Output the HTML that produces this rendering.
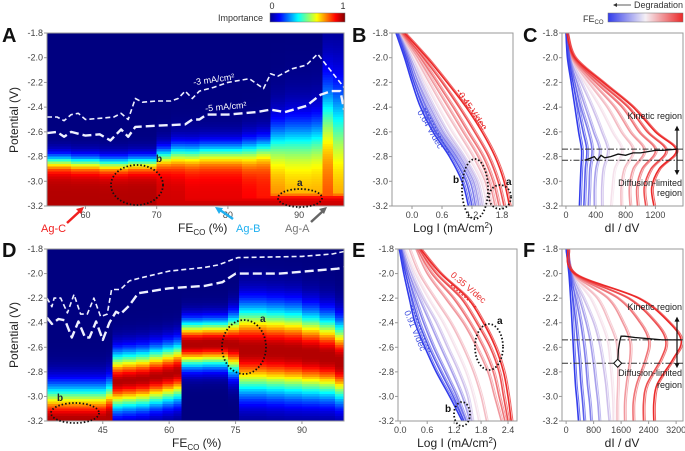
<!DOCTYPE html>
<html><head><meta charset="utf-8">
<style>
html,body{margin:0;padding:0;background:#fff;}
svg{display:block;font-family:"Liberation Sans",sans-serif;}
.tk{font-size:9px;fill:#444;}
.at{font-size:12px;fill:#222;}
.pl{font-size:20px;font-weight:bold;fill:#111;}
</style></head>
<body>
<svg id="fig" width="685" height="451" viewBox="0 0 685 451" xmlns="http://www.w3.org/2000/svg">
<defs>
<linearGradient id="jetg" x1="0" x2="1" y1="0" y2="0">
<stop offset="0" stop-color="#00008f"/><stop offset="0.125" stop-color="#0000ff"/><stop offset="0.375" stop-color="#00ffff"/><stop offset="0.625" stop-color="#ffff00"/><stop offset="0.875" stop-color="#ff0000"/><stop offset="1" stop-color="#800000"/>
</linearGradient>
<linearGradient id="bwrg" x1="0" x2="1" y1="0" y2="0">
<stop offset="0" stop-color="#323ceb"/><stop offset="0.5" stop-color="#f5f0f5"/><stop offset="1" stop-color="#eb2828"/>
</linearGradient>
<clipPath id="clipA"><rect x="47" y="33" width="297" height="173"/></clipPath>
<clipPath id="clipD"><rect x="47" y="249" width="297" height="172"/></clipPath>
<clipPath id="clipB"><rect x="392" y="33" width="121" height="173"/></clipPath>
<clipPath id="clipC"><rect x="562" y="33" width="121" height="173"/></clipPath>
<clipPath id="clipE"><rect x="398" y="249" width="119" height="172"/></clipPath>
<clipPath id="clipF"><rect x="562" y="249" width="121" height="172"/></clipPath>
</defs>

<g id="layer-heat"></g>
<g id="layer-curves"></g>
<g id="layer-axes"></g>

<text class="pl" x="2" y="42">A</text>
<text class="pl" x="352" y="42">B</text>
<text class="pl" x="523" y="42">C</text>
<text class="pl" x="2" y="257">D</text>
<text class="pl" x="352" y="257">E</text>
<text class="pl" x="523" y="257">F</text>

<g>
<rect x="270" y="13" width="75" height="9" fill="url(#jetg)" stroke="#777" stroke-width="0.5"/>
<text x="218" y="21" font-size="9" fill="#333">Importance</text>
<text x="272" y="9" font-size="9" fill="#333" text-anchor="middle">0</text>
<text x="343" y="9" font-size="9" fill="#333" text-anchor="middle">1</text>
</g>
<g>
<rect x="608" y="13" width="75" height="9" fill="url(#bwrg)" stroke="#777" stroke-width="0.5"/>
<text x="583" y="22" font-size="9" fill="#333">FE<tspan font-size="6" dy="2">CO</tspan></text>
<line x1="617" y1="5" x2="631" y2="5" stroke="#333" stroke-width="0.8"/>
<path d="M613,5 l4,-2 v4 z" fill="#333"/>
<text x="683" y="8" font-size="9" fill="#333" text-anchor="end">Degradation</text>
</g>

<text class="at" transform="translate(18,120) rotate(-90)" text-anchor="middle">Potential (V)</text>
<text class="at" transform="translate(18,335) rotate(-90)" text-anchor="middle">Potential (V)</text>
<text class="at" x="178" y="232">FE<tspan font-size="8" dy="3">CO</tspan><tspan dy="-3"> (%)</tspan></text>
<text class="at" x="172" y="447">FE<tspan font-size="8" dy="3">CO</tspan><tspan dy="-3"> (%)</tspan></text>
<text class="at" x="453" y="232" text-anchor="middle">Log I (mA/cm<tspan font-size="8" dy="-4">2</tspan><tspan dy="4">)</tspan></text>
<text class="at" x="457" y="447" text-anchor="middle">Log I (mA/cm<tspan font-size="8" dy="-4">2</tspan><tspan dy="4">)</tspan></text>
<text class="at" x="622" y="232" text-anchor="middle">dI / dV</text>
<text class="at" x="622" y="447" text-anchor="middle">dI / dV</text>

<g>
<line x1="67" y1="223" x2="80" y2="211" stroke="#f02020" stroke-width="2.5"/>
<path d="M84,207 l-8,2 l5,5 z" fill="#f02020"/>
<text x="41" y="232" font-size="11" fill="#f02020">Ag-C</text>
</g>
<g>
<line x1="233" y1="219" x2="220" y2="210" stroke="#20b0f0" stroke-width="2.5"/>
<path d="M215,207 l8,1 l-4,6 z" fill="#20b0f0"/>
<text x="236" y="232" font-size="11" fill="#20b0f0">Ag-B</text>
</g>
<g>
<line x1="311" y1="222" x2="323" y2="211" stroke="#666" stroke-width="2.5"/>
<path d="M327,207 l-8,2 l5,5 z" fill="#666"/>
<text x="285" y="232" font-size="11" fill="#777">Ag-A</text>
</g>

<g id="layer-annot"></g>
</svg>

<script>
// ---------- DATA ----------
const feA   = [55,57,59,61,63,65,67,69,71,73,75,77,79,81,83,85,87,89,91,92.5,94,95.5];
const v50A  = [-2.84,-2.84,-2.85,-2.85,-2.86,-2.86,-2.85,-2.85,-2.8,-2.78,-2.78,-2.77,-2.77,-2.77,-2.76,-2.74,-2.68,-2.66,-2.66,-2.64,-2.45,-2.5];
const wA    = [.04,.04,.04,.04,.04,.04,.04,.04,.05,.06,.06,.06,.06,.06,.07,.07,.12,.13,.13,.13,.2,.22];
const peakA = [.95,.95,.95,.95,.95,.95,.95,.95,.92,.92,.9,.9,.9,.9,.88,.86,.75,.72,.72,.72,.82,.75];
const feA3 = [54.6,56,57,58,59,60,62,64,65,66,67,68,70,72,73,74,75,76,78,80,83,85,86,87,89,91,92.6,96.3];
const vA3  = [-2.48,-2.48,-2.51,-2.46,-2.45,-2.5,-2.49,-2.48,-2.45,-2.5,-2.33,-2.36,-2.35,-2.35,-2.33,-2.27,-2.33,-2.27,-2.24,-2.2,-2.17,-2.25,-2.13,-2.15,-2.09,-2.06,-1.97,-2.24];
const feA5 = [54.6,56,57,58,60,62,63.5,65,66,67,70,74,75,76,77,80,84,86,88,91,93,94.5,95.8,96.3];
const vA5  = [-2.61,-2.6,-2.64,-2.6,-2.63,-2.62,-2.67,-2.58,-2.64,-2.56,-2.55,-2.54,-2.5,-2.5,-2.46,-2.46,-2.44,-2.42,-2.44,-2.39,-2.3,-2.27,-2.27,-2.42];
const feD = [33,36,39,42,45,46.5,48,51,54,57,60,62,63.5,66,69,72,74.5,77,80,84,88,92,96,99];
const cD  = [-3.2,-3.2,-3.2,-3.2,-3.2,-3.17,-2.88,-2.87,-2.86,-2.84,-2.82,-2.8,-2.575,-2.575,-2.57,-2.57,-2.58,-2.62,-2.62,-2.63,-2.64,-2.66,-2.68,-2.72];
const hwD = [.01,.01,.01,.01,.01,.01,0,0,0,0,0,0,.01,.01,.01,.01,.01,.02,.02,.02,.02,.02,.02,.02];
const sD  = [.24,.24,.24,.24,.24,.24,.21,.21,.21,.21,.21,.21,.16,.16,.16,.16,.2,.3,.3,.3,.3,.29,.28,.27];
const feD3 = [32.4,33.5,34,35.5,37,38.5,40,41.5,43,44.5,46,47,49,51,53,60,68,71,75.5,90,97,99.5];
const vD3  = [-2.2,-2.27,-2.2,-2.2,-2.32,-2.17,-2.33,-2.33,-2.2,-2.35,-2.33,-2.13,-2.13,-2.06,-2.04,-1.98,-1.95,-1.93,-1.87,-1.86,-1.84,-1.82];
const feD5 = [32.4,33.5,35,36.5,38,39.5,41,42,43.5,45,46.5,48,49,51,53,60,68,72,75,85,98,99.5];
const vD5  = [-2.36,-2.41,-2.37,-2.38,-2.52,-2.39,-2.52,-2.52,-2.39,-2.54,-2.4,-2.31,-2.33,-2.26,-2.16,-2.12,-2.1,-2.07,-2.0,-2.0,-1.96,-1.95];

const vB = [-1.8,-2.0,-2.2,-2.4,-2.6,-2.8,-3.0,-3.2];
const feB = [0,.1,.2,.3,.4,.5,.6,.7,.8,.9,1];
const logB = [
 [-0.32,-0.15,0.00,0.17,0.42,0.75,1.00,1.13],
 [-0.31,-0.12,0.04,0.23,0.48,0.82,1.08,1.20],
 [-0.30,-0.09,0.08,0.29,0.55,0.89,1.16,1.27],
 [-0.29,-0.06,0.13,0.36,0.62,0.96,1.23,1.34],
 [-0.28,-0.03,0.19,0.43,0.70,1.03,1.30,1.41],
 [-0.26,0.02,0.26,0.52,0.80,1.12,1.38,1.50],
 [-0.24,0.07,0.34,0.62,0.92,1.22,1.46,1.58],
 [-0.22,0.12,0.42,0.72,1.02,1.32,1.54,1.66],
 [-0.20,0.17,0.50,0.82,1.12,1.42,1.62,1.74],
 [-0.18,0.23,0.60,0.94,1.25,1.53,1.72,1.84],
 [-0.15,0.30,0.70,1.08,1.40,1.66,1.84,1.95]];
const vC = [-1.8,-2.0,-2.2,-2.4,-2.6,-2.75,-2.9,-3.05,-3.2];
const feC = [0,.1,.2,.3,.4,.5,.6,.7,.8,.9,1];
const dC = [
 [0,20,70,120,170,210,200,190,180],
 [2,28,95,160,230,280,260,250,240],
 [3,35,120,200,300,350,320,310,300],
 [5,40,150,260,370,450,400,380,380],
 [5,50,200,350,480,560,500,480,480],
 [5,60,250,450,620,750,650,620,600],
 [6,70,300,550,740,900,780,740,740],
 [7,80,350,650,860,1050,900,850,860],
 [8,95,400,750,980,1200,1020,950,960],
 [9,105,450,830,1090,1340,1140,1050,1070],
 [10,120,500,900,1200,1480,1250,1150,1180]];
const peakLineCd = [250,300,380,420,470,520,600,700,800,900,1000,1100,1200,1300,1480];
const peakLineCv = [-2.83,-2.82,-2.8,-2.83,-2.79,-2.81,-2.8,-2.78,-2.79,-2.77,-2.77,-2.76,-2.75,-2.75,-2.74];
const vE = [-1.8,-2.0,-2.2,-2.4,-2.6,-2.8,-3.0,-3.2];
const feE = [0,.1,.2,.3,.4,.5,.6,.7,.8,.9,1];
const logE = [
 [-0.02,0.08,0.2,0.33,0.55,0.8,1.1,1.38],
 [-0.01,0.12,0.26,0.42,0.64,0.9,1.18,1.42],
 [0.0,0.16,0.33,0.52,0.74,1.0,1.26,1.47],
 [0.03,0.2,0.42,0.66,0.9,1.15,1.38,1.55],
 [0.05,0.25,0.5,0.8,1.05,1.3,1.5,1.6],
 [0.1,0.33,0.62,0.95,1.22,1.46,1.63,1.75],
 [0.2,0.42,0.76,1.12,1.4,1.63,1.8,1.92],
 [0.35,0.6,1.0,1.4,1.7,1.95,2.1,2.25],
 [0.38,0.7,1.18,1.55,1.85,2.07,2.2,2.33],
 [0.42,0.8,1.35,1.7,2.0,2.2,2.3,2.4],
 [0.45,0.9,1.5,1.85,2.12,2.3,2.4,2.47]];
const vF = [-1.8,-2.0,-2.2,-2.4,-2.55,-2.7,-2.9,-3.05,-3.2];
const feF = [0,.1,.2,.3,.4,.5,.6,.7,.8,.9,1];
const dF = [
 [0,80,130,170,200,230,270,320,360],
 [3,100,200,280,330,380,430,480,520],
 [5,120,280,420,500,560,620,680,720],
 [8,135,380,580,700,780,860,920,960],
 [10,150,500,800,950,1050,1150,1200,1250],
 [20,165,700,1020,1200,1270,1330,1360,1370],
 [30,180,900,1250,1450,1500,1500,1480,1480],
 [35,200,1200,1650,1850,1850,1750,1700,1700],
 [40,215,1500,2150,2400,2300,2050,1950,1950],
 [45,235,1800,2600,2900,2750,2350,2250,2250],
 [50,250,2100,3000,3350,3100,2650,2550,2550]];
const peakLineFd = [1500,1520,1560,1600,1700,2000,2400,2800,3350];
const peakLineFv = [-2.73,-2.62,-2.55,-2.51,-2.51,-2.52,-2.53,-2.54,-2.54];

const yTicks = [-1.8,-2.0,-2.2,-2.4,-2.6,-2.8,-3.0,-3.2];
const xTicksA = [60,70,80,90];
const xTicksD = [45,60,75,90];
const xTicksB = [0.0,0.6,1.2,1.8];
const xTicksE = [0.0,0.6,1.2,1.8,2.4];
const xTicksC = [0,400,800,1200];
const xTicksF = [0,800,1600,2400,3200];

// ---------- HELPERS ----------
const NS = "http://www.w3.org/2000/svg";
function mk(tag, attrs, parent){const e=document.createElementNS(NS,tag);for(const k in attrs)e.setAttribute(k,attrs[k]);parent.appendChild(e);return e;}
function lin(d0,d1,r0,r1){return v=>r0+(v-d0)/(d1-d0)*(r1-r0);}
const clamp=x=>Math.max(0,Math.min(1,x));
function jet(t){const r=clamp(1.5-Math.abs(4*t-3)),g=clamp(1.5-Math.abs(4*t-2)),b=clamp(1.5-Math.abs(4*t-1));return 'rgb('+Math.round(r*255)+','+Math.round(g*255)+','+Math.round(b*255)+')';}
function bwr(t){const B=[50,60,235],W=[245,225,235],R=[235,40,40];let a,b,u;if(t<0.5){a=B;b=W;u=t/0.5;}else{a=W;b=R;u=(t-0.5)/0.5;}return 'rgb('+a.map((x,i)=>Math.round(x+(b[i]-x)*u)).join(',')+')';}
function smooth(p){let d='M'+p[0][0].toFixed(1)+','+p[0][1].toFixed(1);for(let i=0;i<p.length-1;i++){const p0=p[i-1]||p[i],p1=p[i],p2=p[i+1],p3=p[i+2]||p2;const c1=[p1[0]+(p2[0]-p0[0])/6,p1[1]+(p2[1]-p0[1])/6],c2=[p2[0]-(p3[0]-p1[0])/6,p2[1]-(p3[1]-p1[1])/6];d+=' C'+c1[0].toFixed(1)+','+c1[1].toFixed(1)+' '+c2[0].toFixed(1)+','+c2[1].toFixed(1)+' '+p2[0].toFixed(1)+','+p2[1].toFixed(1);}return d;}
const sig=x=>1/(1+Math.exp(-x));

const heatL=document.getElementById('layer-heat');
const curveL=document.getElementById('layer-curves');
const axL=document.getElementById('layer-axes');
const anL=document.getElementById('layer-annot');

const P={
 A:{x0:47,x1:344,y0:33,y1:206,xd:[54.6,96.3]},
 D:{x0:47,x1:344,y0:249,y1:421,xd:[32.4,99.5]},
 B:{x0:392,x1:513,y0:33,y1:206,xd:[-0.4,2.02]},
 C:{x0:562,x1:683,y0:33,y1:206,xd:[-53,1570]},
 E:{x0:398,x1:517,y0:249,y1:421,xd:[-0.05,2.6]},
 F:{x0:562,x1:683,y0:249,y1:421,xd:[-120,3400]}
};
for(const k in P){const p=P[k];p.sx=lin(p.xd[0],p.xd[1],p.x0,p.x1);p.sy=lin(-1.8,-3.2,p.y0,p.y1);}

// ---------- HEATMAPS ----------
function heat(p, fe, impFn, nm){
 const g=mk('g',{'clip-path':'url(#clip'+nm+')','shape-rendering':'crispEdges'},heatL);
 
 
 const rows=70;
 for(let i=0;i<fe.length;i++){
  const xl=i==0?p.xd[0]:(fe[i-1]+fe[i])/2, xr=i==fe.length-1?p.xd[1]:(fe[i]+fe[i+1])/2;
  const X0=p.sx(xl),X1=p.sx(xr);
  for(let r=0;r<rows;r++){
   const v=-1.8-(r+0.5)*1.4/rows;
   const c=mk('rect',{x:X0.toFixed(2),y:(p.y0+r*(p.y1-p.y0)/rows).toFixed(2),width:(X1-X0+0.6).toFixed(2),height:((p.y1-p.y0)/rows+0.6).toFixed(2),fill:jet(impFn(i,v))},g);
   
   
  }
 }
}
heat(P.A,feA,function(i,v){return Math.max(peakA[i]*sig((v50A[i]-v)/wA[i]), 0.93*sig((-3.08-v)/0.02));},'A');
heat(P.D,feD,function(i,v){const d=Math.max(0,Math.abs(v-cD[i])-hwD[i]);const q=d/sD[i];return 0.95*Math.exp(-(q*q));},'D');

function dashLine(p,xs,vs,dash,w,nm){
 const pts=xs.map((x,i)=>[p.sx(x),p.sy(vs[i])]);
 const e=mk('path',{d:'M'+pts.map(q=>q[0].toFixed(1)+','+q[1].toFixed(1)).join(' L'),fill:'none',stroke:'#eef0ff',"stroke-width":w,"stroke-dasharray":dash,"stroke-linejoin":"round"},heatL);
 
 
}
dashLine(P.A,feA3,vA3,'5,3',1.6,'contour-3ma-a');
dashLine(P.A,feA5,vA5,'9,4',2.4,'contour-5ma-a');
dashLine(P.D,feD3,vD3,'5,3',1.6,'contour-3ma-d');
dashLine(P.D,feD5,vD5,'9,4',2.4,'contour-5ma-d');

// ---------- CURVES ----------
function curves(p,vs,fes,vals,nm){
 const g=mk('g',{'clip-path':'url(#clip'+nm+')'},curveL);
 
 
 const idx=fes.map((f,i)=>i).sort((a,b)=>Math.abs(fes[a]-0.5)-Math.abs(fes[b]-0.5));
 for(const i of idx){
  const pts=vals[i].map((x,j)=>[p.sx(x),p.sy(vs[j])]);
  const e=mk('path',{d:smooth(pts),fill:'none',stroke:bwr(fes[i]),"stroke-width":1.6},g);
  
  
  const e2=mk('path',{d:smooth(pts.map(q=>[q[0]+1.8,q[1]])),fill:'none',stroke:bwr(fes[i]),"stroke-width":1,opacity:0.7},g);
  
  
 }
}
curves(P.B,vB,feB,logB,'B');
curves(P.C,vC,feC,dC,'C');
curves(P.E,vE,feE,logE,'E');
curves(P.F,vF,feF,dF,'F');

// ---------- AXES ----------
function axes(p,xt,fmt,nm){
 const g=mk('g',{},axL);
 
 
 const fr=mk('rect',{x:p.x0,y:p.y0,width:p.x1-p.x0,height:p.y1-p.y0,fill:'none',stroke:'#999','stroke-width':1},g);
 
 
 for(const v of yTicks){
  const y=p.sy(v);
  mk('line',{x1:p.x0-3,x2:p.x0,y1:y,y2:y,stroke:'#999'},g);
  const t=mk('text',{x:p.x0-4,y:y+3,'text-anchor':'end',class:'tk'},g);
  t.textContent=v.toFixed(1);
  
  
 }
 for(const v of xt){
  const x=p.sx(v);
  mk('line',{x1:x,x2:x,y1:p.y1,y2:p.y1+3,stroke:'#999'},g);
  const t=mk('text',{x:x,y:p.y1+12,'text-anchor':'middle',class:'tk'},g);
  t.textContent=fmt(v);
  
  
 }
}
axes(P.A,xTicksA,v=>v,'A');
axes(P.D,xTicksD,v=>v,'D');
axes(P.B,xTicksB,v=>v.toFixed(1),'B');
axes(P.E,xTicksE,v=>v.toFixed(1),'E');
axes(P.C,xTicksC,v=>v,'C');
axes(P.F,xTicksF,v=>v,'F');

// ---------- ANNOTATIONS ----------
function ell(cx,cy,rx,ry,nm){const e=mk('ellipse',{cx:cx,cy:cy,rx:rx,ry:ry,fill:'none',stroke:'#111','stroke-width':1.8,'stroke-dasharray':'1.5,2'},anL);}
function txt(x,y,s,opt,nm){const e=mk('text',Object.assign({x:x,y:y},opt),anL);e.textContent=s;return e;}
function dl(x1,y1,x2,y2,c,nm){const e=mk('line',{x1:x1,y1:y1,x2:x2,y2:y2,stroke:c,'stroke-width':1.2,'stroke-dasharray':'2,1.5'},anL);}
ell(137,185,26,20,'region-b-ellipse-a');ell(300,198,22,9,'region-a-ellipse-a');
txt(156,162,'b',{'font-size':10,'font-weight':'bold',fill:'#223'},'label-b-a');
txt(297,186,'a',{'font-size':10,'font-weight':'bold',fill:'#223'},'label-a-a');
txt(193,83,'-3 mA/cm²',{'font-size':9,fill:'#fff',transform:'rotate(-8 210 80)'},'label-3ma-a');
txt(205,110,'-5 mA/cm²',{'font-size':9,fill:'#fff',transform:'rotate(-5 222 106)'},'label-5ma-a');
ell(244,347,22,27,'region-a-ellipse-d');ell(75,413,24,10,'region-b-ellipse-d');
txt(260,322,'a',{'font-size':10,'font-weight':'bold',fill:'#223'},'label-a-d');
txt(57,401,'b',{'font-size':10,'font-weight':'bold',fill:'#223'},'label-b-d');
dl(458,90,486,130,'#e83030','slope-line-045');
txt(458,95,'0.45 V/dec',{'font-size':9,fill:'#e83030',transform:'rotate(55 458 95)'},'slope-label-045');
dl(425,108,450,155,'#4050e0','slope-line-064');
txt(417,112,'0.64 V/dec',{'font-size':9,fill:'#4050e0',transform:'rotate(60 417 112)'},'slope-label-064');
ell(475,189,13,30,'region-b-ellipse-b');ell(500,197,11,12,'region-a-ellipse-b');
txt(453,183,'b',{'font-size':10,'font-weight':'bold',fill:'#111'},'label-b-b');
txt(506,185,'a',{'font-size':10,'font-weight':'bold',fill:'#111'},'label-a-b');
dl(451,285,477,308,'#e83030','slope-line-035');
txt(450,276,'0.35 V/dec',{'font-size':9,fill:'#e83030',transform:'rotate(40 450 276)'},'slope-label-035');
dl(410,302,430,352,'#4050e0','slope-line-091');
txt(404,312,'0.91 V/dec',{'font-size':9,fill:'#4050e0',transform:'rotate(67 404 312)'},'slope-label-091');
ell(489,347,14,23,'region-a-ellipse-e');ell(462,414,8,12,'region-b-ellipse-e');
txt(497,324,'a',{'font-size':10,'font-weight':'bold',fill:'#111'},'label-a-e');
txt(445,412,'b',{'font-size':10,'font-weight':'bold',fill:'#111'},'label-b-e');
function dashdot(p,v,nm){const y=p.sy(v);const e=mk('line',{x1:p.x0,x2:p.x1,y1:y,y2:y,stroke:'#333','stroke-width':1,'stroke-dasharray':'6,2,1.5,2'},anL);}
dashdot(P.C,-2.74,'kinetic-boundary-c');dashdot(P.C,-2.83,'diffusion-boundary-c');
function blk(p,xs,vs,nm){const e=mk('path',{d:'M'+xs.map((x,i)=>p.sx(x).toFixed(1)+','+p.sy(vs[i]).toFixed(1)).join(' L'),fill:'none',stroke:'#111','stroke-width':1.3},anL);}
blk(P.C,peakLineCd,peakLineCv,'peak-trace-c');
dashdot(P.F,-2.54,'kinetic-boundary-f');dashdot(P.F,-2.73,'diffusion-boundary-f');
blk(P.F,peakLineFd,peakLineFv,'peak-trace-f');
const mkF=mk('path',{d:'M'+P.F.sx(1500)+','+(P.F.sy(-2.73)-4)+' l4,4 l-4,4 l-4,-4 z',fill:'#fff',stroke:'#111','stroke-width':1},anL);


function arrows(x,yc,up,dn,nm){const e=mk('path',{d:'M'+x+','+yc+' V'+(up+4)+' M'+x+','+yc+' V'+(dn-4),stroke:'#111','stroke-width':1.2},anL);
 const h=mk('path',{d:'M'+(x-2.5)+','+(up+5)+' L'+x+','+up+' L'+(x+2.5)+','+(up+5)+' Z M'+(x-2.5)+','+(dn-5)+' L'+x+','+dn+' L'+(x+2.5)+','+(dn-5)+' Z',fill:'#111'},anL);}
arrows(677,P.C.sy(-2.74),P.C.sy(-2.55),P.C.sy(-2.95),'region-arrows-c');
arrows(677,P.F.sy(-2.54),P.F.sy(-2.35),P.F.sy(-2.77),'region-arrows-f');
const ro={'font-size':9,fill:'#222','text-anchor':'end'};
txt(682,119,'Kinetic region',ro,'kinetic-region-label-c');
txt(682,186,'Diffusion-limited',ro,'diffusion-label-c');
txt(682,196,'region',ro,'diffusion-label-c2');
txt(682,310,'Kinetic region',ro,'kinetic-region-label-f');
txt(682,376,'Diffusion-limited',ro,'diffusion-label-f');
txt(682,388,'region',ro,'diffusion-label-f2');
</script>
</body></html>
